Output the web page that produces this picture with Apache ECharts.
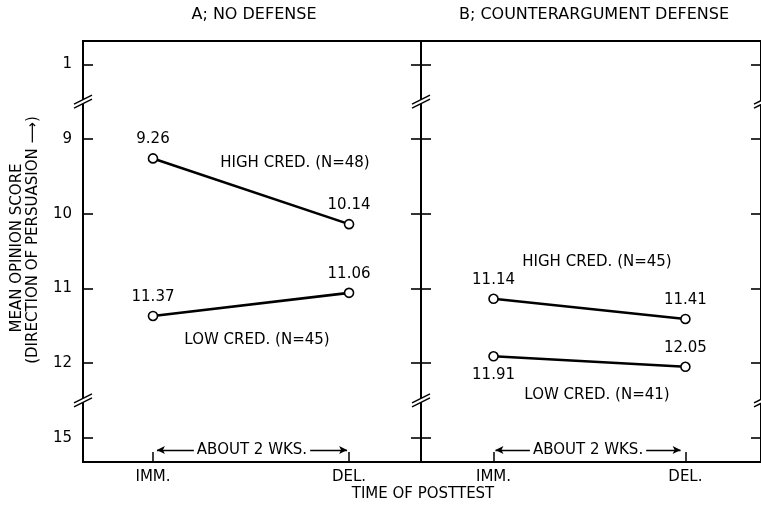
<!DOCTYPE html>
<html><head><meta charset="utf-8">
<script src="https://cdn.jsdelivr.net/npm/echarts@6/dist/echarts.min.js"></script>
<style>html,body{margin:0;padding:0;background:#fff}#c{width:761px;height:507px}</style>
</head><body><div id="c"></div>
<script>
// ---- data ----
const categories = ['IMM.', 'DEL.'];
const panelTitles = ['A; NO DEFENSE', 'B; COUNTERARGUMENT DEFENSE'];
const highCredA = [9.26, 10.14];
const lowCredA = [11.37, 11.06];
const highCredB = [11.14, 11.41];
const lowCredB = [11.91, 12.05];
const seriesNames = ['HIGH CRED. (N=48)', 'LOW CRED. (N=45)', 'HIGH CRED. (N=45)', 'LOW CRED. (N=41)'];
// compressed (broken) scale: position on axis -> printed tick label
const yTickPositions = [8, 9, 10, 11, 12, 13];
const yTickLabels = ['1', '9', '10', '11', '12', '15'];
const breakPositions = [8.5, 12.5];
const intervalText = 'ABOUT 2 WKS.';
const xAxisTitle = 'TIME OF POSTTEST';
const yAxisTitle = ['MEAN OPINION SCORE', '(DIRECTION OF PERSUASION \u27F6)'];

// ---- layout ----
const FONT = 'DejaVu Sans';
const FS = 15;
const grids = [
  {left: 83, top: 41, width: 338, height: 421},
  {left: 421, top: 41, width: 342, height: 421}
];
const xRanges = [[-0.357, 1.367], [-0.378, 1.394]];
const yMin = 7.688, yMax = 13.325;
const txt = {color: '#000', fontFamily: FONT, fontSize: FS};

const chart = echarts.init(document.getElementById('c'), null, {renderer: 'canvas'});

function pts(arr) { return arr.map((v, i) => [i, v]); }

function lineSeries(name, arr, panel, labelPos, arrow) {
  const s = {
    name: name, type: 'line', xAxisIndex: panel, yAxisIndex: panel * 2,
    data: pts(arr).map((p, i) => ({value: p, label: {position: labelPos[i]}})),
    symbol: 'circle', symbolSize: 9,
    itemStyle: {color: '#fff', borderColor: '#000', borderWidth: 1.6},
    lineStyle: {color: '#000', width: 2.6},
    label: Object.assign({show: true, distance: 6, formatter: p => p.value[1].toFixed(2)}, txt),
    emphasis: {disabled: true}, animation: false, z: 3
  };
  if (arrow) {
    s.markLine = {
      silent: true, animation: false,
      symbol: ['arrow', 'arrow'], symbolSize: [6, 8],
      lineStyle: {color: '#000', width: 1.3, type: 'solid'},
      label: Object.assign({show: true, position: 'middle', formatter: intervalText,
        verticalAlign: 'middle', backgroundColor: '#fff', padding: [1, 3], distance: 0}, txt),
      data: [[{coord: [arrow[0], 13.165]}, {coord: [arrow[1], 13.165]}]]
    };
  }
  return s;
}

const xAxes = [0, 1].map(i => ({
  type: 'value', gridIndex: i, min: xRanges[i][0], max: xRanges[i][1],
  axisLine: {show: false, onZero: false}, splitLine: {show: false},
  axisTick: {show: true, inside: true, length: 10, customValues: [0, 1], lineStyle: {color: '#000', width: 1.5}},
  axisLabel: Object.assign({show: true, customValues: [0, 1], margin: 8,
    formatter: v => categories[Math.round(v)]}, txt)
}));

const yAxes = [];
[0, 1].forEach(g => {
  ['left', 'right'].forEach((pos, k) => {
    yAxes.push({
      type: 'value', gridIndex: g, position: pos, inverse: true, min: yMin, max: yMax,
      axisLine: {show: false, onZero: false}, splitLine: {show: false},
      axisTick: {show: true, inside: true, length: 10, customValues: yTickPositions, lineStyle: {color: '#000', width: 1.6}},
      axisLabel: Object.assign({show: g === 0 && k === 0, customValues: yTickPositions, margin: 11,
        formatter: v => yTickLabels[yTickPositions.indexOf(Math.round(v))]}, txt)
    });
  });
});

const option = {
  backgroundColor: '#fff',
  animation: false,
  grid: grids.map(g => Object.assign({show: true, borderColor: '#000', borderWidth: 2, containLabel: false}, g)),
  xAxis: xAxes,
  yAxis: yAxes,
  series: [
    lineSeries(seriesNames[0], highCredA, 0, ['top', 'top'], [0.02, 0.99]),
    lineSeries(seriesNames[1], lowCredA, 0, ['top', 'top']),
    lineSeries(seriesNames[2], highCredB, 1, ['top', 'top'], [0.01, 0.975]),
    lineSeries(seriesNames[3], lowCredB, 1, ['bottom', 'top'])
  ]
};
chart.setOption(option);

// ---- annotations & axis-break marks ----
const graphics = [];
function text(t, x, y, rot, size) {
  graphics.push({type: 'text', x: x, y: y, rotation: rot || 0, silent: true, z: 10,
    style: {text: t, fill: '#000', font: (size || FS) + 'px "' + FONT + '"', align: 'center', verticalAlign: 'middle'}});
}
text(panelTitles[0], 254, 15, 0, 16);
text(panelTitles[1], 594, 15, 0, 16);
text(seriesNames[0], 295, 163);
text(seriesNames[1], 257, 340);
text(seriesNames[2], 597, 262);
text(seriesNames[3], 597, 395);
text(xAxisTitle, 423, 494);
text(yAxisTitle[0], 17, 248, Math.PI / 2);
text(yAxisTitle[1], 33, 240, Math.PI / 2);

const axisXs = [grids[0].left, grids[1].left, grids[1].left + grids[1].width];
breakPositions.forEach(b => {
  const y = chart.convertToPixel({yAxisIndex: 0}, b);
  axisXs.forEach(x => {
    graphics.push({type: 'polygon', silent: true, z: 20,
      shape: {points: [[x - 3, y + 1.5 - 2], [x + 3, y - 1.5 - 2], [x + 3, y - 1.5 + 2], [x - 3, y + 1.5 + 2]]},
      style: {fill: '#fff'}});
    [-2, 2].forEach(k => {
      graphics.push({type: 'line', silent: true, z: 21,
        shape: {x1: x - 9, y1: y + 4.5 + k, x2: x + 9, y2: y - 4.5 + k},
        style: {stroke: '#000', lineWidth: 1.5}});
    });
  });
});
chart.setOption({graphic: graphics});
</script></body></html>
